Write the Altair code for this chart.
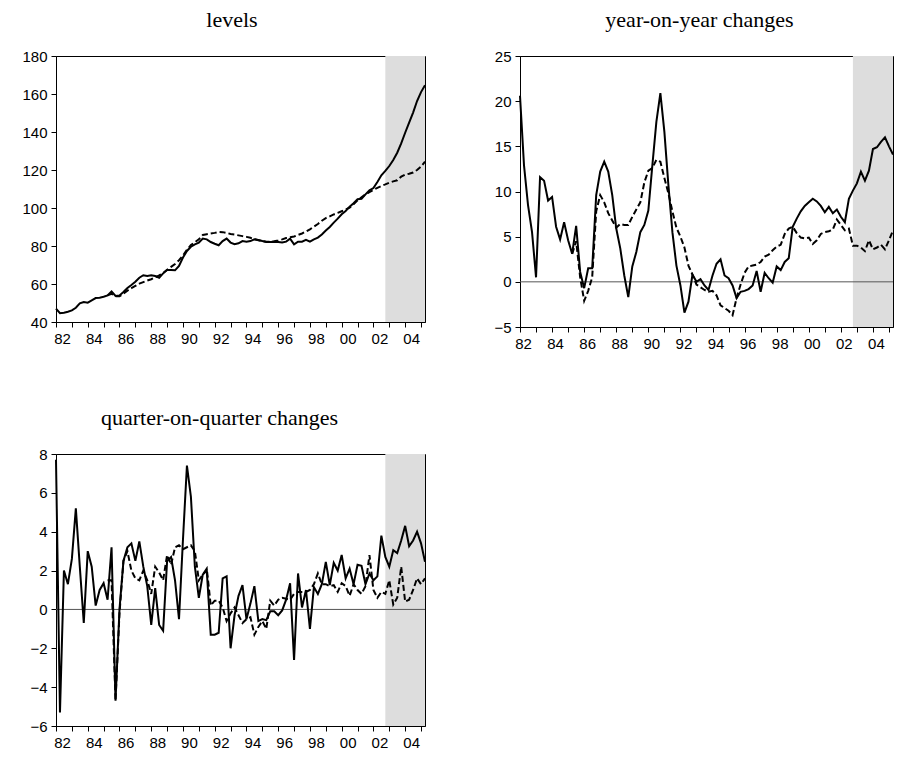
import altair as alt
import pandas as pd

# Quarterly observations, 1982Q1 .. 2005Q2
first_quarter = 1982.0
dashed_first_quarter = 1985.25
shade_from = 2002.75
shade_to = 2005.25
x_domain = [1982.0, 2005.25]
year_ticks = list(range(1982, 2006))

levels_actual = [
    47.0, 44.6, 44.9, 45.4,
    46.1, 47.5, 49.8, 50.5,
    50.2, 51.4, 52.6, 52.8,
    53.3, 54.0, 56.1, 53.7,
    54.0, 55.8, 57.9, 59.5,
    61.2, 63.3, 64.6, 64.2,
    64.6, 64.2, 63.3, 65.6,
    67.4, 67.4, 67.2, 69.5,
    73.9, 77.4, 79.6, 80.9,
    81.8, 83.9, 83.5, 82.1,
    81.2, 80.4, 82.6, 83.9,
    81.8, 80.9, 81.4, 82.6,
    82.3, 82.6, 83.5, 83.2,
    82.6, 82.1, 82.1, 82.3,
    82.1, 81.8, 82.3, 83.9,
    80.9, 82.3, 82.3, 83.2,
    82.3, 83.5, 84.4, 86.1,
    88.2, 90.0, 92.3, 94.4,
    96.7, 98.4, 100.7, 102.5,
    104.6, 104.9, 107.2, 109.3,
    110.5, 113.7, 117.2, 119.5,
    122.1, 125.3, 129.1, 134.0,
    139.6, 144.9, 150.2, 156.3,
    161.0, 164.6,
]
levels_fitted = [
    54.0, 54.8, 53.6,
    53.5, 55.0, 56.5, 57.8,
    59.0, 60.2, 61.0, 61.8,
    62.5, 63.5, 64.5, 65.8,
    67.5, 69.0, 70.5, 72.5,
    75.0, 78.0, 80.5, 82.0,
    83.5, 85.8, 86.2, 86.6,
    86.9, 87.4, 87.3, 86.9,
    86.3, 86.0, 85.6, 85.2,
    84.8, 84.3, 83.6, 83.0,
    82.6, 82.3, 82.2, 82.5,
    82.9, 83.5, 84.2, 84.6,
    85.0, 85.8, 86.6, 87.6,
    88.8, 90.2, 91.6, 93.3,
    94.7, 95.6, 96.6, 97.4,
    98.3, 99.2, 100.2, 102.0,
    104.0, 105.7, 107.2, 108.4,
    109.5, 110.6, 111.6, 112.4,
    113.3, 114.0, 114.6, 116.5,
    117.6, 118.0, 118.7, 120.0,
    121.8, 124.4,
]

yoy_actual = [
    20.6, 12.9, 8.5, 5.5,
    0.5, 11.6, 11.2, 9.0,
    9.4, 6.1, 4.7, 6.6,
    4.6, 3.1, 6.2, 1.1,
    -0.7, 1.5, 1.5, 9.6,
    12.2, 13.3, 12.2, 9.6,
    5.9, 3.7, 0.7, -1.7,
    1.7, 3.3, 5.5, 6.3,
    7.9, 12.9, 17.7, 20.9,
    16.6, 10.7, 5.5, 1.8,
    -0.4, -3.4, -2.2, 0.8,
    0.0, 0.3, -0.4, -0.9,
    0.7, 2.0, 2.5, 0.7,
    0.4, -0.4, -1.8, -1.1,
    -1.0, -0.8, -0.4, 1.2,
    -1.1, 1.0, 0.4, -0.1,
    1.7, 1.3, 2.2, 2.6,
    6.1, 7.0, 7.8, 8.4,
    8.8, 9.2, 8.9, 8.4,
    7.7, 8.3, 7.6, 8.0,
    7.2, 6.6, 9.2, 10.1,
    10.9, 12.2, 11.2, 12.3,
    14.7, 14.9, 15.5, 16.0,
    15.0, 14.1,
]
yoy_fitted = [
    3.1, 4.5, 0.5,
    -2.1, -1.0, 0.5, 7.8,
    9.6, 8.8, 7.6, 6.8,
    6.0, 6.4, 6.3, 6.3,
    7.2, 8.0, 8.8, 11.0,
    12.3, 12.6, 13.5, 13.3,
    11.5, 9.8, 7.8, 6.0,
    5.0, 3.8, 1.8, 0.8,
    -0.3, -0.6, -0.9, -1.1,
    -1.0, -1.5, -2.6, -2.9,
    -3.2, -3.7, -1.8, -0.3,
    1.0, 1.7, 1.8, 1.9,
    2.2, 2.8, 3.0, 3.5,
    3.9, 4.1, 5.3, 5.9,
    6.1, 5.4, 4.9, 4.8,
    4.9, 4.2, 4.6, 5.3,
    5.5, 5.6, 5.8, 6.9,
    6.3, 5.7, 5.9, 4.0,
    4.0, 3.8, 3.4, 4.6,
    3.6, 3.8, 4.1, 3.6,
    4.6, 5.7,
]

qoq_actual = [
    7.7, -5.3, 2.0, 1.3,
    2.6, 5.2, 2.2, -0.7,
    3.0, 2.2, 0.2, 1.0,
    1.35, 0.5, 3.2, -4.7,
    0.0, 2.5, 3.2, 3.4,
    2.5, 3.5, 2.2, 1.2,
    -0.8, 1.1, -0.8, -1.1,
    2.5, 2.7, 1.5, -0.5,
    3.6, 7.4, 5.8, 2.2,
    0.6, 1.8, 2.0, -1.3,
    -1.3, -1.2, 1.6, 1.7,
    -2.0, -0.3, 0.7, 1.25,
    -0.5, 0.3, 1.2, -0.6,
    -0.5, -0.55, -0.1, -0.1,
    -0.3, -0.05, 0.5, 1.35,
    -2.6, 1.85, 0.1, 1.0,
    -1.0, 1.15, 0.8, 1.3,
    2.45, 1.25, 2.4, 2.0,
    2.8, 1.6, 2.1, 1.3,
    2.3, 2.25, 1.3, 1.85,
    1.5, 1.7, 3.8, 2.7,
    2.2, 3.05, 2.9, 3.55,
    4.3, 3.25, 3.55, 4.0,
    3.4, 2.45,
]
qoq_fitted = [
    1.5, 1.5, -4.7,
    -0.2, 2.5, 3.0, 2.0,
    1.6, 1.5, 2.0, 1.5,
    0.8, 2.2, 1.9, 1.5,
    2.8, 2.3, 3.2, 3.3,
    3.1, 3.2, 3.3, 3.0,
    1.5, 1.8, 2.1, 0.2,
    0.45, 0.45, 0.1, -0.6,
    -0.2, 0.1, -0.3, -0.7,
    -0.5, -0.4, -1.3, -0.9,
    -0.6, -1.0, 0.45, 0.2,
    0.5, 0.6, 0.55, 0.5,
    0.8, 0.9, 0.9, 0.9,
    1.0, 1.3, 1.85, 1.3,
    1.3, 1.2, 1.25, 0.9,
    1.35, 1.2, 0.7, 1.3,
    1.0, 0.8, 1.2, 2.8,
    1.0, 0.6, 0.9, 0.8,
    1.5, 0.25, 0.6, 2.2,
    0.4, 0.5, 1.0, 1.6,
    1.3, 1.6,
]

SERIF = "Liberation Serif"
SANS = "Liberation Sans"
YEAR_LABEL = "datum.value % 2 == 0 ? substring(toString(datum.value), 2) : ''"


def quarters(n, start):
    return [start + q / 4 for q in range(n)]


def panel(title, actual, fitted, y_domain, y_ticks, width, height, title_dx,
          zero_line, x_label_offset=6):
    actual_df = pd.DataFrame({"t": quarters(len(actual), first_quarter), "v": actual})
    fitted_df = pd.DataFrame({"t": quarters(len(fitted), dashed_first_quarter), "v": fitted})
    shade_df = pd.DataFrame({"a": [shade_from], "b": [shade_to]})

    xs = alt.Scale(domain=x_domain, nice=False, zero=False)
    ys = alt.Scale(domain=y_domain, nice=False, zero=False)
    x_axis = alt.Axis(
        values=year_ticks,
        labelExpr=YEAR_LABEL,
        labelOffset=x_label_offset,
        labelFlush=False,
        title=None,
    )
    y_axis = alt.Axis(values=y_ticks, labelFlush=False, title=None)

    shade = alt.Chart(shade_df).mark_rect(color="#dddddd").encode(
        x=alt.X("a:Q", scale=xs, axis=x_axis),
        x2="b:Q",
        y=alt.value(0),
        y2=alt.value(height),
    )
    layers = [shade]
    if zero_line:
        zero_df = pd.DataFrame({"z": [0]})
        layers.append(
            alt.Chart(zero_df).mark_rule(color="#555555", strokeWidth=1).encode(
                y=alt.Y("z:Q", scale=ys, axis=y_axis)
            )
        )
    layers.append(
        alt.Chart(fitted_df).mark_line(
            color="black", strokeWidth=2, strokeDash=[6, 3]
        ).encode(
            x=alt.X("t:Q", scale=xs, axis=x_axis),
            y=alt.Y("v:Q", scale=ys, axis=y_axis),
        )
    )
    layers.append(
        alt.Chart(actual_df).mark_line(color="black", strokeWidth=2).encode(
            x=alt.X("t:Q", scale=xs, axis=x_axis),
            y=alt.Y("v:Q", scale=ys, axis=y_axis),
        )
    )
    return alt.layer(*layers).properties(
        width=width,
        height=height,
        title=alt.TitleParams(
            text=title,
            font=SERIF,
            fontSize=22,
            fontWeight="normal",
            color="black",
            anchor="middle",
            frame="group",
            dx=title_dx,
            offset=17,
        ),
    )


levels = panel("levels", levels_actual, levels_fitted, [40, 180],
               list(range(40, 181, 20)), 369, 266, -8.5, False)
yoy = panel("year-on-year changes", yoy_actual, yoy_fitted, [-5, 25],
            list(range(-5, 26, 5)), 373, 271, -7, True, x_label_offset=3)
qoq = panel("quarter-on-quarter changes", qoq_actual, qoq_fitted, [-6, 8],
            list(range(-6, 9, 2)), 369, 272, -21, True)

chart = alt.concat(
    levels, yoy, qoq,
    columns=2,
    spacing={"row": 54, "column": 63},
).properties(
    padding={"left": 21, "top": 8, "right": 4, "bottom": 4},
    background="white",
).configure_view(
    stroke="black", strokeWidth=1
).configure_axis(
    grid=False,
    domainColor="black",
    domainWidth=1,
    tickColor="black",
    tickSize=5,
    labelColor="black",
    labelFont=SANS,
    labelFontSize=15,
    labelPadding=4,
)

chart.save("out.html", embed_options={"renderer": "svg", "actions": False})
